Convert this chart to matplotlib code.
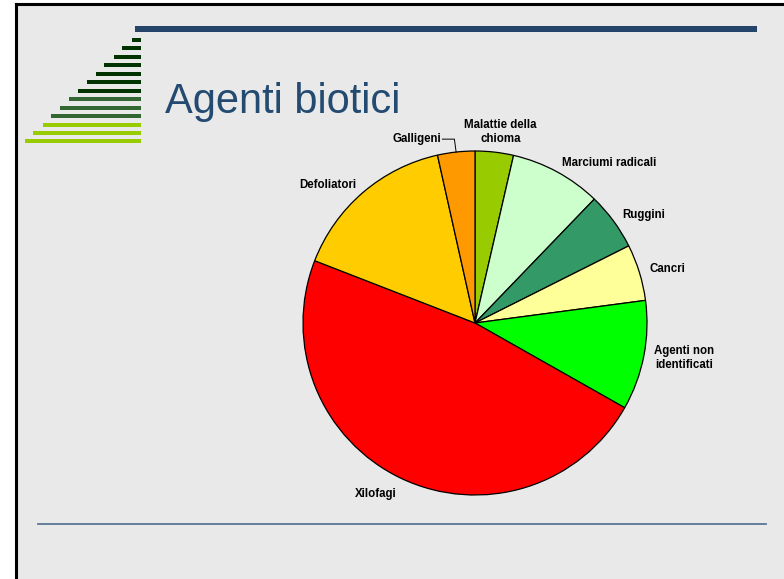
import numpy as np
import matplotlib
matplotlib.use("Agg")
import matplotlib.pyplot as plt
from matplotlib.patches import Rectangle

plt.rcParams['font.family'] = ['Liberation Sans', 'DejaVu Sans']

# data (percent of total, clockwise from 12 o'clock)
categorie = ['Malattie della\nchioma', 'Marciumi radicali', 'Ruggini', 'Cancri',
             'Agenti non\nidentificati', 'Xilofagi', 'Defoliatori', 'Galligeni']
valori = [3.6, 8.6, 5.4, 5.3, 10.3, 47.7, 15.6, 3.5]
colori = ['#99CC00', '#CCFFCC', '#339966', '#FFFF99',
          '#00FF00', '#FF0000', '#FFCC00', '#FF9900']

titolo = 'Agenti biotici'

W, H = 784, 579
fig = plt.figure(figsize=(W / 100, H / 100), dpi=100)
fig.patch.set_facecolor('white')

def px(x0, y0, w, h):
    # pixel box (top-left origin) -> figure fraction
    return (x0 / W, 1 - (y0 + h) / H, w / W, h / H)

# slide background + frame
bg = fig.add_axes([0, 0, 1, 1])
bg.set_xlim(0, W)
bg.set_ylim(H, 0)
bg.axis('off')
bg.add_patch(Rectangle((16, 4), W, H, facecolor='#E9E9E9', edgecolor='none'))
bg.plot([16, 16], [4, H], color='black', lw=2.2)
bg.plot([16, W], [4, 4], color='black', lw=2.2)

# top bar
bg.add_patch(Rectangle((135, 26), 622, 6, facecolor='#24446A', edgecolor='none'))

# staircase of bars on the left
lefts = [132, 122, 114, 104, 96, 87, 78, 69, 60, 51, 43, 33, 25]
tops = [38, 46, 55, 63, 72, 80, 89, 97, 106, 114, 123, 131, 139]
cols = ['#003300'] * 7 + ['#336633'] * 3 + ['#99CC00'] * 3
for l, t, c in zip(lefts, tops, cols):
    bg.add_patch(Rectangle((l, t), 141 - l, 3.8, facecolor=c, edgecolor='none'))

# bottom rule
bg.plot([38, 766], [524, 524], color='#5B7593', lw=1.3)

# title
bg.text(165, 113, titolo, fontsize=30, color='#234A70', ha='left', va='baseline')

# pie
cx, cy, r = 475, 323, 172
ax = fig.add_axes(px(cx - r, cy - r, 2 * r, 2 * r))
wedges, _ = ax.pie(valori, colors=colori, startangle=90, counterclock=False,
                   wedgeprops=dict(edgecolor='black', linewidth=0.9))
ax.set_xlim(-1, 1)
ax.set_ylim(-1, 1)
ax.set_aspect('equal')
ax.axis('off')

lab = dict(fontsize=8.3, fontweight='bold', color='black', multialignment='center')
for w, name in zip(wedges, categorie):
    ang = np.deg2rad((w.theta1 + w.theta2) / 2)
    x, y = np.cos(ang), np.sin(ang)
    if name.startswith('Malattie'):
        ax.text(x * 1.04 + 0.03, y * 1.04, name, ha='center', va='bottom', **lab)
    elif name == 'Galligeni':
        ex, ey = x, y
        ax.plot([ex, ex - 0.01, ex - 0.08], [ey, ey + 0.075, ey + 0.075],
                color='black', lw=0.7, clip_on=False)
        ax.text(ex - 0.085, ey + 0.075, name, ha='right', va='center', **lab)
    else:
        ax.text(x * 1.06, y * 1.06, name, ha='left' if x > 0 else 'right',
                va='top' if y < -0.5 else 'center', **lab)

fig.savefig('out.png', dpi=100, facecolor=fig.get_facecolor())
